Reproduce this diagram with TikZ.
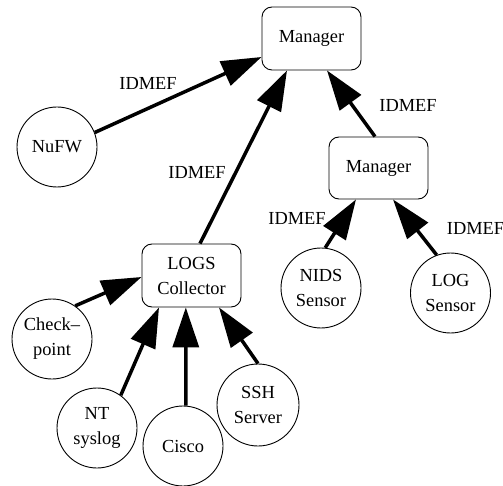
\documentclass[tikz,border=0pt]{standalone}
\usepackage{fontspec}
\setmainfont{Liberation Serif}
\usetikzlibrary{calc,arrows.meta}
\begin{document}
\begin{tikzpicture}[x=1pt,y=-1pt,
  every node/.style={font=\fontsize{18.4}{25}\selectfont},
  box/.style={draw,line width=0.9pt,rounded corners=10pt,minimum width=99pt,
    minimum height=63pt,align=center,inner sep=0pt},
  disc/.style={draw,circle,line width=0.9pt,minimum size=80pt,align=center,inner sep=0pt},
  flow/.style={line width=3.5pt,-{Triangle[length=40pt,width=26pt]}},
  lbl/.style={inner sep=0pt}]
\useasboundingbox (0,0) rectangle (503,486);

% managers and collector
\node[box] (mgr) at (311.5,38.5) {Manager};
\node[box,minimum height=62pt] (mgr2) at (378.5,168) {Manager};
\node[box] (logs) at (191.5,275.5) {LOGS\\Collector};

% sources
\node[disc] (nufw) at (57,147) {NuFW};
\node[disc] (chk) at (52,339) {Check--\\point};
\node[disc] (nt) at (97,428) {NT\\syslog};
\node[disc] (cisco) at (183,446) {Cisco};
\node[disc,minimum size=82pt] (ssh) at (258,405) {SSH\\Server};
\node[disc] (nids) at (321,288) {NIDS\\Sensor};
\node[disc] (logsen) at (450.5,293) {LOG\\Sensor};

% IDMEF flows
\draw[flow] (nufw.21) -- ($(mgr.west)+(0,18.5)$);
\draw[flow] ($(logs.north)+(8.5,0)$) -- ($(mgr.south)+(-24.5,0)$);
\draw[flow] ($(mgr2.north)+(-3.5,0)$) -- ($(mgr.south)+(15.5,0)$);
\draw[flow] (nids.84) -- ($(mgr2.south)+(-22.5,0)$);
\draw[flow] (logsen.110) -- ($(mgr2.south)+(14.5,0)$);

% log flows into the collector
\draw[flow] (chk.55) -- ($(logs.west)+(0,1.5)$);
\draw[flow] (nt.54) -- ($(logs.south)+(-32.5,0)$);
\draw[flow] (cisco.86) -- ($(logs.south)+(-5.7,0)$);
\draw[flow] (ssh.north) -- ($(logs.south)+(27.5,0)$);

% edge labels
\node[lbl] (l1) at (148,83.5) {IDMEF};
\node[lbl] (l2) at (197,172) {IDMEF};
\node[lbl] (l3) at (408,105) {IDMEF};
\node[lbl] (l4) at (297,218) {IDMEF};
\node[lbl] (l5) at (475.5,228) {IDMEF};
\end{tikzpicture}
\end{document}
